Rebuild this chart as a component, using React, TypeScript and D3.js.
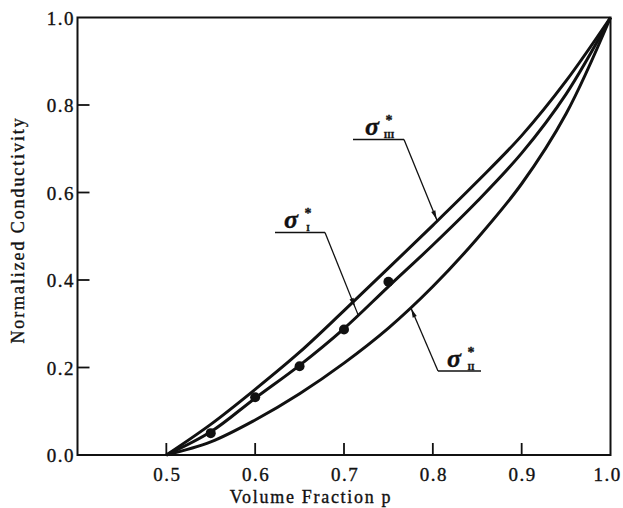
import React from "react";
import * as d3 from "d3";

// volume fraction grid and the three conductivity curves
const pGrid = [0.5, 0.55, 0.6, 0.65, 0.7, 0.75, 0.8, 0.85, 0.9, 0.95, 1.0];
const sigmaIII = [0, 0.07, 0.15, 0.235, 0.33, 0.427, 0.525, 0.625, 0.73, 0.855, 1];
const sigmaI = [0, 0.053, 0.13, 0.205, 0.289, 0.385, 0.48, 0.58, 0.69, 0.825, 1];
const sigmaII = [0, 0.03, 0.08, 0.14, 0.21, 0.29, 0.385, 0.495, 0.62, 0.78, 1];

// measured points on the sigma_I curve
const dotP = [0.55, 0.6, 0.65, 0.7, 0.75];
const dotV = [0.05, 0.132, 0.203, 0.287, 0.396];

const xTickVals = [0.5, 0.6, 0.7, 0.8, 0.9];
const xLabelVals = [0.5, 0.6, 0.7, 0.8, 0.9, 1.0];
const yTickVals = [0.2, 0.4, 0.6, 0.8];
const yLabelVals = [0.0, 0.2, 0.4, 0.6, 0.8, 1.0];

const W = 623;
const H = 508;
const FONT = "Liberation Serif, Times New Roman, DejaVu Serif, serif";

export default function App() {
  const x = d3.scaleLinear().domain([0.4, 1.0]).range([77.5, 610.5]);
  const y = d3.scaleLinear().domain([0, 1]).range([455, 17.5]);

  const line = d3
    .line<number>()
    .x((_, i) => x(pGrid[i]))
    .y((d) => y(d))
    .curve(d3.curveCatmullRom.alpha(0.5));

  // value on a curve at p (linear between grid points, good enough for leader ends)
  const at = (vals: number[], p: number) =>
    d3.scaleLinear().domain(pGrid).range(vals)(p);

  const curves = [sigmaIII, sigmaI, sigmaII];

  // leader lines: label underline + line down to curve
  const leaders = [
    { sub: "III", tx: 365, ty: 135, ul: [353, 404], uy: 139.5, p: 0.805, vals: sigmaIII, arrowT: 0.88, from: 1 },
    { sub: "I", tx: 284, ty: 228, ul: [275, 325], uy: 232.5, p: 0.716, vals: sigmaI, arrowT: 0.8, from: 1 },
    { sub: "II", tx: 447, ty: 367, ul: [438, 481], uy: 371, p: 0.775, vals: sigmaII, arrowT: 0.85, from: 0 },
  ];

  const txt = { fontFamily: FONT, fill: "#111", stroke: "#111", strokeWidth: 0.35 };

  return (
    <div style={{ position: "fixed", left: 0, top: 0 }}>
      <svg width={W} height={H} style={{ display: "block", background: "#fff" }}>
        {/* frame */}
        <rect
          x={x(0.4)}
          y={y(1)}
          width={x(1) - x(0.4)}
          height={y(0) - y(1)}
          fill="none"
          stroke="#111"
          strokeWidth={2}
        />
        {xTickVals.map((t) => (
          <line key={"xt" + t} x1={x(t)} x2={x(t)} y1={y(0)} y2={y(0) - 12} stroke="#111" strokeWidth={1.8} />
        ))}
        {yTickVals.map((t) => (
          <line key={"yt" + t} x1={x(0.4)} x2={x(0.4) + 12} y1={y(t)} y2={y(t)} stroke="#111" strokeWidth={1.8} />
        ))}
        {xLabelVals.map((t) => (
          <text
            key={"xl" + t}
            x={t === 1 ? x(t) - 3 : x(t) + 1}
            y={480.5}
            textAnchor="middle"
            style={{ ...txt, fontSize: 19, letterSpacing: 1.5 }}
          >
            {t.toFixed(1)}
          </text>
        ))}
        {yLabelVals.map((t) => (
          <text
            key={"yl" + t}
            x={75}
            y={y(t) + 7}
            textAnchor="end"
            style={{ ...txt, fontSize: 19, letterSpacing: 1.5 }}
          >
            {t.toFixed(1)}
          </text>
        ))}
        <text x={311} y={503} textAnchor="middle" style={{ ...txt, fontSize: 18, letterSpacing: 1.7 }}>
          Volume Fraction p
        </text>
        <text
          transform="translate(24,230) rotate(-90)"
          textAnchor="middle"
          style={{ ...txt, fontSize: 18, letterSpacing: 1.9 }}
        >
          Normalized Conductivity
        </text>

        {/* curves */}
        {curves.map((c, i) => (
          <path key={"c" + i} d={line(c) || ""} fill="none" stroke="#111" strokeWidth={3} />
        ))}
        {dotP.map((p, i) => (
          <circle key={"d" + i} cx={x(p)} cy={y(dotV[i])} r={5} fill="#111" />
        ))}

        {/* labels with leaders */}
        {leaders.map((l, i) => {
          const startX = l.ul[l.from];
          const ex = x(l.p);
          const ey = y(at(l.vals, l.p));
          const ang = Math.atan2(ey - l.uy, ex - startX);
          const ax = startX + (ex - startX) * l.arrowT;
          const ay = l.uy + (ey - l.uy) * l.arrowT;
          const len = 9;
          const wid = 2.2;
          const tipX = ax + Math.cos(ang) * len;
          const tipY = ay + Math.sin(ang) * len;
          const nx = -Math.sin(ang) * wid;
          const ny = Math.cos(ang) * wid;
          return (
            <g key={"lab" + i}>
              <line x1={l.ul[0]} x2={l.ul[1]} y1={l.uy} y2={l.uy} stroke="#111" strokeWidth={1.6} />
              <line x1={startX} y1={l.uy} x2={ex} y2={ey} stroke="#111" strokeWidth={1.3} />
              <polygon points={`${tipX},${tipY} ${ax + nx},${ay + ny} ${ax - nx},${ay - ny}`} fill="#111" />
              <text
                x={l.tx}
                y={l.ty}
                style={{ ...txt, fontSize: 26, fontStyle: "italic", fontWeight: "bold" }}
              >
                σ
              </text>
              <text x={l.tx + 24} y={l.ty - 10} textAnchor="middle" style={{ ...txt, fontSize: 14, fontWeight: "bold" }}>
                *
              </text>
              <text x={l.tx + 24} y={l.ty + 3} textAnchor="middle" style={{ ...txt, fontSize: 9, fontWeight: "bold" }}>
                {l.sub}
              </text>
            </g>
          );
        })}
      </svg>
    </div>
  );
}
